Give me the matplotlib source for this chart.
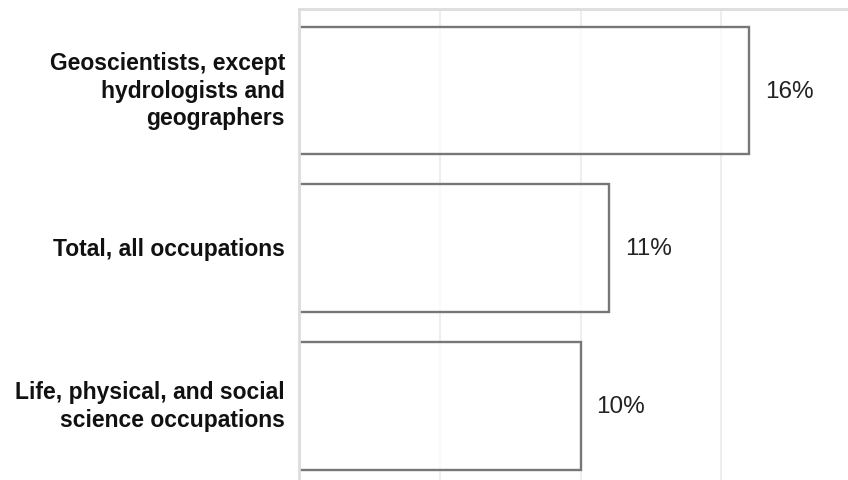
import matplotlib.pyplot as plt
import matplotlib.transforms as mtransforms

# 직업별 값 (위에서 아래 순서)
categories = ['Geoscientists, except\nhydrologists and\ngeographers',
              'Total, all occupations',
              'Life, physical, and social\nscience occupations']
values = [16, 11, 10]
value_labels = ['16%', '11%', '10%']

plt.rcParams['font.family'] = ['Liberation Sans', 'DejaVu Sans']

fig = plt.figure(figsize=(8.48, 4.81), dpi=100)
ax = fig.add_axes([299 / 848, -2 / 481, 1 - 299 / 848, 1 - 10 / 481 + 2 / 481])

ypos = list(range(len(categories)))
ax.barh(ypos, values, height=0.81, left=0, facecolor=(1, 1, 1, 0.75),
        edgecolor='#777777', linewidth=1.7, zorder=3)

for y, v, lab in zip(ypos, values, value_labels):
    ax.annotate(lab, (v, y), xytext=(11.5, 0), textcoords='offset points',
                va='center', ha='left', fontsize=17.5, color='#222222')

ax.set_ylim(len(categories) - 0.517, -0.517)
ax.set_xlim(0, 19.5)
ax.set_xticks([5, 10, 15])
ax.set_xticklabels([])
ax.tick_params(axis='x', length=0)
ax.grid(axis='x', color='#eeeeee', linewidth=1.5, zorder=1)
ax.set_axisbelow(True)

ax.set_yticks(ypos)
ax.set_yticklabels(categories, fontsize=16.5, fontweight='bold', color='#111111',
                   linespacing=1.25)
ax.tick_params(axis='y', length=0, pad=10)

# 여러 줄 라벨은 조금 위로
for t in ax.get_yticklabels():
    dy = 5 if '\n' in t.get_text() else 2
    t.set_transform(t.get_transform() + mtransforms.ScaledTranslation(0, dy / 100, fig.dpi_scale_trans))

for side in ['right', 'bottom']:
    ax.spines[side].set_visible(False)
for side in ['left', 'top']:
    ax.spines[side].set_color('#dddddd')
    ax.spines[side].set_linewidth(2)
    ax.spines[side].set_zorder(4)

fig.savefig('out.png', dpi=100)
